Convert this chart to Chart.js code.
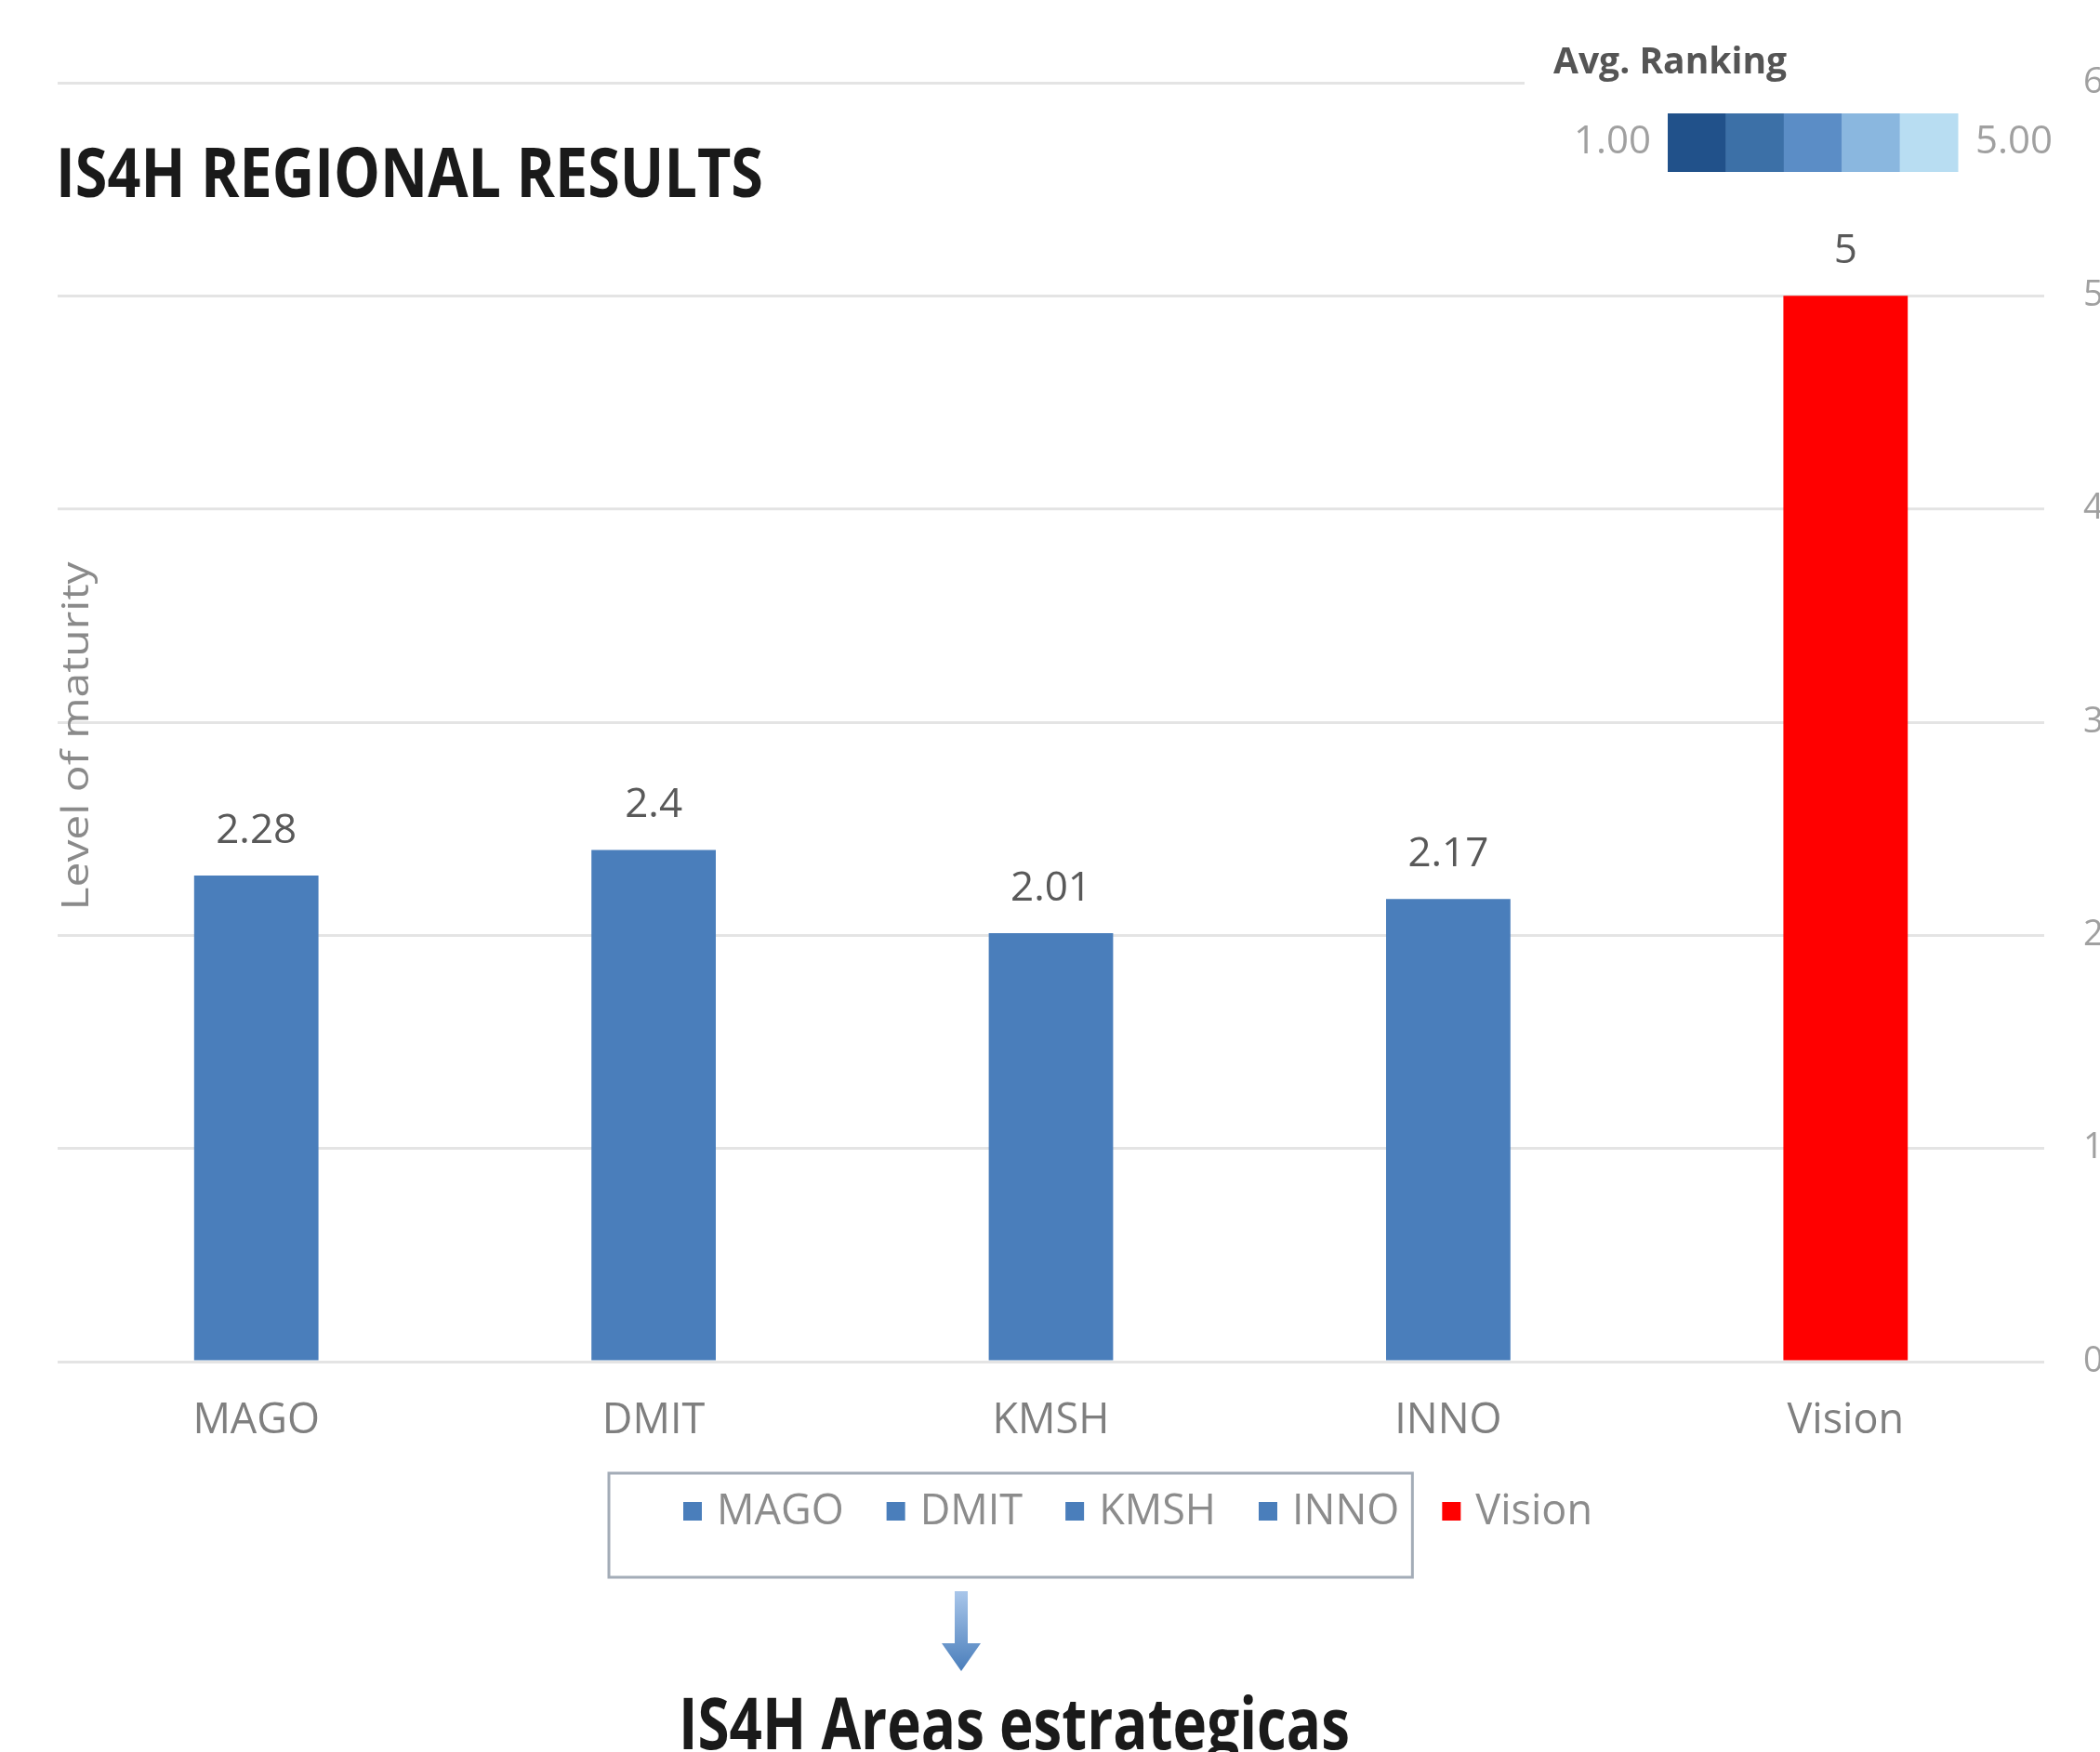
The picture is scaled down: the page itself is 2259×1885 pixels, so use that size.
<!DOCTYPE html>
<html><head><meta charset="utf-8">
<script src="https://cdn.jsdelivr.net/npm/chart.js@4.4.1/dist/chart.umd.min.js"></script>
<style>html,body{margin:0;padding:0;background:#fff;overflow:hidden}#wrap{width:2259px;height:1885px;position:relative}</style>
</head><body><div id="wrap"><canvas id="c" width="2259" height="1885" style="width:2259px;height:1885px"></canvas></div>
<script>
const categories = ['MAGO', 'DMIT', 'KMSH', 'INNO', 'Vision'];
const maturity = [2.28, 2.4, 2.01, 2.17, 5];
const barColors = ['#4a7ebb', '#4a7ebb', '#4a7ebb', '#4a7ebb', '#ff0000'];
const yTicks = [0, 1, 2, 3, 4, 5, 6];
const rankingColors = ['#21518a', '#3c70a7', '#5b8dc6', '#8ab7df', '#b8ddf2'];
const rankingLabels = ['1.00', '5.00'];
const rankingTitle = 'Avg. Ranking';
const chartTitle = 'IS4H REGIONAL RESULTS';
const subTitle = 'IS4H Areas estrategicas';
const yTitle = 'Level of maturity';
const boxedLegendCount = 4;

const FONT = '"Open Sans", "Noto Sans", sans-serif';

function fittedText(ctx, text, x, y, font, width, color) {
  ctx.save();
  ctx.font = font;
  ctx.fillStyle = color;
  ctx.textAlign = 'left';
  ctx.textBaseline = 'alphabetic';
  const w = ctx.measureText(text).width;
  ctx.translate(x, y);
  ctx.scale(width / w, 1);
  ctx.fillText(text, 0, 0);
  ctx.restore();
}

const decor = {
  id: 'decor',
  beforeDraw(chart) {
    const ctx = chart.ctx;
    ctx.save();
    ctx.fillStyle = '#ffffff';
    ctx.fillRect(0, 0, chart.width, chart.height);
    ctx.restore();
  },
  afterDatasetsDraw(chart) {
    const ctx = chart.ctx;
    const meta = chart.getDatasetMeta(0);
    ctx.save();
    ctx.font = '44px ' + FONT;
    ctx.fillStyle = '#595959';
    ctx.textAlign = 'center';
    ctx.textBaseline = 'middle';
    meta.data.forEach((bar, i) => {
      ctx.fillText(String(maturity[i]), bar.x, bar.y - 48);
    });
    ctx.restore();
  },
  afterDraw(chart) {
    const ctx = chart.ctx;
    ctx.save();
    // white panel behind the colour legend (hides the top grid line)
    ctx.fillStyle = '#ffffff';
    ctx.fillRect(1640, 20, 585, 190);

    // Avg. Ranking colour legend
    ctx.font = 'bold 39px ' + FONT;
    ctx.fillStyle = '#555555';
    ctx.textAlign = 'left';
    ctx.textBaseline = 'middle';
    ctx.fillText(rankingTitle, 1671, 68);
    const bx = 1794, by = 122, bw = 312, bh = 63;
    const seg = bw / rankingColors.length;
    rankingColors.forEach((c, i) => {
      ctx.fillStyle = c;
      ctx.fillRect(bx + i * seg, by, seg + 0.5, bh);
    });
    ctx.font = '42px ' + FONT;
    ctx.fillStyle = '#a0a0a0';
    ctx.textAlign = 'right';
    ctx.fillText(rankingLabels[0], bx - 18, by + bh / 2);
    ctx.textAlign = 'left';
    ctx.fillText(rankingLabels[1], bx + bw + 19, by + bh / 2);

    // Chart title
    fittedText(ctx, chartTitle, 60, 212, 'bold 74px ' + FONT, 761, '#1a1a1a');

    // Y axis title (left side)
    ctx.save();
    ctx.font = '40px ' + FONT;
    const tw = ctx.measureText(yTitle).width;
    ctx.translate(84, 792);
    ctx.rotate(-Math.PI / 2);
    ctx.scale(375 / tw, 1);
    ctx.fillStyle = '#8a8a8a';
    ctx.textAlign = 'center';
    ctx.textBaseline = 'middle';
    ctx.fillText(yTitle, 0, 0);
    ctx.restore();

    // Category legend
    ctx.font = '45px ' + FONT;
    ctx.textBaseline = 'middle';
    ctx.textAlign = 'left';
    const ly = 1626, sq = 20, gapT = 16, gapI = 46;
    let x = 735;
    let boxRight = 0;
    categories.forEach((c, i) => {
      ctx.fillStyle = barColors[i];
      ctx.fillRect(x, ly - sq / 2, sq, sq);
      x += sq + gapT;
      ctx.fillStyle = '#8c8c8c';
      ctx.fillText(c, x, ly + 1);
      x += ctx.measureText(c).width;
      if (i === boxedLegendCount - 1) boxRight = x + 14;
      x += gapI;
    });
    ctx.strokeStyle = '#a3acb7';
    ctx.lineWidth = 3;
    ctx.strokeRect(655, 1585, boxRight - 655, 112);

    // Arrow
    const ax = 1034;
    const grad = ctx.createLinearGradient(0, 1712, 0, 1798);
    grad.addColorStop(0, '#a9c6ea');
    grad.addColorStop(1, '#4a7ebb');
    ctx.fillStyle = grad;
    ctx.beginPath();
    ctx.moveTo(ax - 7, 1712);
    ctx.lineTo(ax + 7, 1712);
    ctx.lineTo(ax + 7, 1768);
    ctx.lineTo(ax + 21, 1768);
    ctx.lineTo(ax, 1798);
    ctx.lineTo(ax - 21, 1768);
    ctx.lineTo(ax - 7, 1768);
    ctx.closePath();
    ctx.fill();

    // Bottom caption
    fittedText(ctx, subTitle, 730, 1882, 'bold 77px ' + FONT, 722, '#1a1a1a');
    ctx.restore();
  }
};

new Chart(document.getElementById('c'), {
  type: 'bar',
  data: {
    labels: categories,
    datasets: [{
      label: 'Level of maturity',
      data: maturity,
      backgroundColor: barColors,
      borderWidth: 0,
      barPercentage: 0.313,
      categoryPercentage: 1.0
    }]
  },
  options: {
    responsive: false,
    animation: false,
    devicePixelRatio: 1,
    layout: { padding: { left: 62, right: 0, top: 89, bottom: 300 } },
    plugins: {
      legend: { display: false },
      tooltip: { enabled: false },
      title: { display: false }
    },
    scales: {
      x: {
        grid: { display: false },
        border: { display: false },
        ticks: { color: '#7f7f7f', font: { family: FONT, size: 45 }, padding: 29 }
      },
      y: {
        position: 'right',
        min: 0,
        max: 6,
        afterBuildTicks: (axis) => { axis.ticks = yTicks.map(v => ({ value: v })); },
        afterFit: (axis) => { axis.width = 60; },
        grid: { color: '#e4e4e4', lineWidth: 3, drawTicks: false },
        border: { display: false },
        ticks: { color: '#a0a0a0', font: { family: FONT, size: 38 }, padding: 42 }
      }
    }
  },
  plugins: [decor]
});
</script>
</body></html>
